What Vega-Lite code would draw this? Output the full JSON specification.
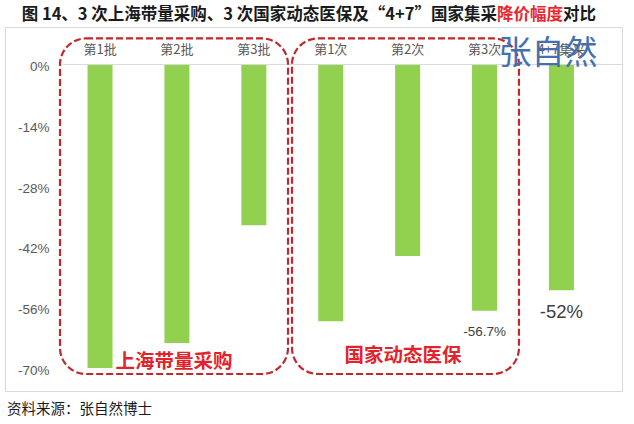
{
  "$schema": "https://vega.github.io/schema/vega-lite/v6.json",
  "width": 617,
  "height": 364,
  "autosize": "none",
  "padding": {"left": 5, "top": 27, "right": 12, "bottom": 33},
  "config": {"view": {"stroke": "#d9d9d9", "strokeWidth": 1}, "font": "Noto Sans CJK SC"},
  "datasets": {
    "bars": [
      {"cat": "第1批", "v": -0.699, "label": ""},
      {"cat": "第2批", "v": -0.641, "label": ""},
      {"cat": "第3批", "v": -0.37, "label": ""},
      {"cat": "第1次", "v": -0.591, "label": ""},
      {"cat": "第2次", "v": -0.441, "label": ""},
      {"cat": "第3次", "v": -0.567, "label": "-56.7%"},
      {"cat": "4+7集采", "v": -0.52, "label": "-52%"}
    ],
    "boxes": [
      {"x": -0.02, "x2": 2.945, "y": 0.06, "y2": -0.7127},
      {"x": 2.997, "x2": 5.948, "y": 0.06, "y2": -0.7127}
    ],
    "groups": [
      {"x": 1.462, "y": -0.685, "t": "上海带量采购"},
      {"x": 4.44, "y": -0.671, "t": "国家动态医保"}
    ],
    "mark": [{"x": 6.326, "y": 0.024, "t": "张自然"}],
    "titleStart": [{"x": 5.663, "y": 0.113, "t": "图 14、3 次上海带量采购、3 次国家动态医保及“4+7”国家集采"}],
    "titleRed": [{"x": 5.663, "y": 0.113, "t": "降价幅度"}],
    "titleEnd": [{"x": 6.521, "y": 0.113, "t": "对比"}],
    "source": [{"x": -0.709, "y": -0.7955, "t": "资料来源：张自然博士"}],
    "zero": [{"x": 0.02, "x2": 7.288, "y": 0}]
  },
  "layer": [
    {
      "layer": [
        {
          "data": {"name": "bars"},
          "mark": {"type": "bar", "color": "#92d050"},
          "encoding": {
            "x": {
              "field": "cat", "type": "nominal", "sort": null,
              "scale": {"paddingInner": 0.675, "paddingOuter": 0.849, "align": 0.632},
              "axis": {"orient": "top", "domain": false, "ticks": false, "tickSize": 0, "labelPadding": 8, "offset": -37.5, "labelAngle": 0, "labelFont": "Noto Sans CJK SC", "labelFontSize": 13, "labelColor": "#595959", "title": null}
            },
            "y": {
              "field": "v", "type": "quantitative",
              "scale": {"domain": [-0.7518, 0.0863], "nice": false, "zero": false},
              "axis": {"values": [0, -0.14, -0.28, -0.42, -0.56, -0.7], "labelExpr": "round(datum.value*100)+'%'", "domain": false, "ticks": false, "tickSize": 0, "grid": false, "offset": -44, "labelPadding": 0, "labelFont": "Liberation Sans", "labelFontSize": 13.5, "labelColor": "#595959", "title": null, "labelOffset": 2}
            }
          }
        },
        {
          "data": {"name": "bars"},
          "transform": [{"filter": "datum.cat == '第3次'"}],
          "mark": {"type": "text", "font": "Liberation Sans", "fontSize": 13.5, "color": "#404040", "baseline": "middle", "dy": 21},
          "encoding": {
            "x": {"field": "cat", "type": "nominal", "sort": null},
            "y": {"field": "v", "type": "quantitative"},
            "text": {"field": "label"}
          }
        },
        {
          "data": {"name": "bars"},
          "transform": [{"filter": "datum.cat == '4+7集采'"}],
          "mark": {"type": "text", "font": "Liberation Sans", "fontSize": 18.5, "color": "#404040", "baseline": "middle", "dy": 22},
          "encoding": {
            "x": {"field": "cat", "type": "nominal", "sort": null},
            "y": {"field": "v", "type": "quantitative"},
            "text": {"field": "label"}
          }
        }
      ]
    },
    {
      "layer": [
        {
          "data": {"name": "zero"},
          "mark": {"type": "rule", "color": "#d9d9d9", "strokeWidth": 1},
          "encoding": {
            "x": {"field": "x", "type": "quantitative", "scale": {"domain": [-0.7354, 7.288], "nice": false, "zero": false}, "axis": null},
            "x2": {"field": "x2"},
            "y": {"field": "y", "type": "quantitative"}
          }
        },
        {
          "data": {"name": "boxes"},
          "mark": {"type": "rect", "fill": "transparent", "stroke": "#c0282d", "strokeWidth": 2.2, "strokeDash": [7, 3], "cornerRadius": 26},
          "encoding": {
            "x": {"field": "x", "type": "quantitative"},
            "x2": {"field": "x2"},
            "y": {"field": "y", "type": "quantitative"},
            "y2": {"field": "y2"}
          }
        },
        {
          "data": {"name": "groups"},
          "mark": {"type": "text", "font": "Noto Sans CJK SC", "fontSize": 19.5, "fontWeight": "bold", "color": "#e2232a", "baseline": "middle", "align": "center"},
          "encoding": {
            "x": {"field": "x", "type": "quantitative"},
            "y": {"field": "y", "type": "quantitative"},
            "text": {"field": "t"}
          }
        },
        {
          "data": {"name": "mark"},
          "mark": {"type": "text", "font": "Noto Sans CJK SC", "fontSize": 33, "fontWeight": "normal", "color": "#4470b0", "baseline": "middle", "align": "center"},
          "encoding": {
            "x": {"field": "x", "type": "quantitative"},
            "y": {"field": "y", "type": "quantitative"},
            "text": {"field": "t"}
          }
        },
        {
          "data": {"name": "titleStart"},
          "mark": {"type": "text", "font": "Noto Sans CJK SC", "fontSize": 16.5, "fontWeight": "bold", "color": "#1a1a1a", "baseline": "middle", "align": "right"},
          "encoding": {
            "x": {"field": "x", "type": "quantitative"},
            "y": {"field": "y", "type": "quantitative"},
            "text": {"field": "t"}
          }
        },
        {
          "data": {"name": "titleRed"},
          "mark": {"type": "text", "font": "Noto Sans CJK SC", "fontSize": 16.5, "fontWeight": "bold", "color": "#e8272f", "baseline": "middle", "align": "left"},
          "encoding": {
            "x": {"field": "x", "type": "quantitative"},
            "y": {"field": "y", "type": "quantitative"},
            "text": {"field": "t"}
          }
        },
        {
          "data": {"name": "titleEnd"},
          "mark": {"type": "text", "font": "Noto Sans CJK SC", "fontSize": 16.5, "fontWeight": "bold", "color": "#1a1a1a", "baseline": "middle", "align": "left"},
          "encoding": {
            "x": {"field": "x", "type": "quantitative"},
            "y": {"field": "y", "type": "quantitative"},
            "text": {"field": "t"}
          }
        },
        {
          "data": {"name": "source"},
          "mark": {"type": "text", "font": "Noto Sans CJK SC", "fontSize": 14.5, "color": "#1a1a1a", "baseline": "middle", "align": "left"},
          "encoding": {
            "x": {"field": "x", "type": "quantitative"},
            "y": {"field": "y", "type": "quantitative"},
            "text": {"field": "t"}
          }
        }
      ]
    }
  ],
  "resolve": {"scale": {"x": "independent"}}
}
